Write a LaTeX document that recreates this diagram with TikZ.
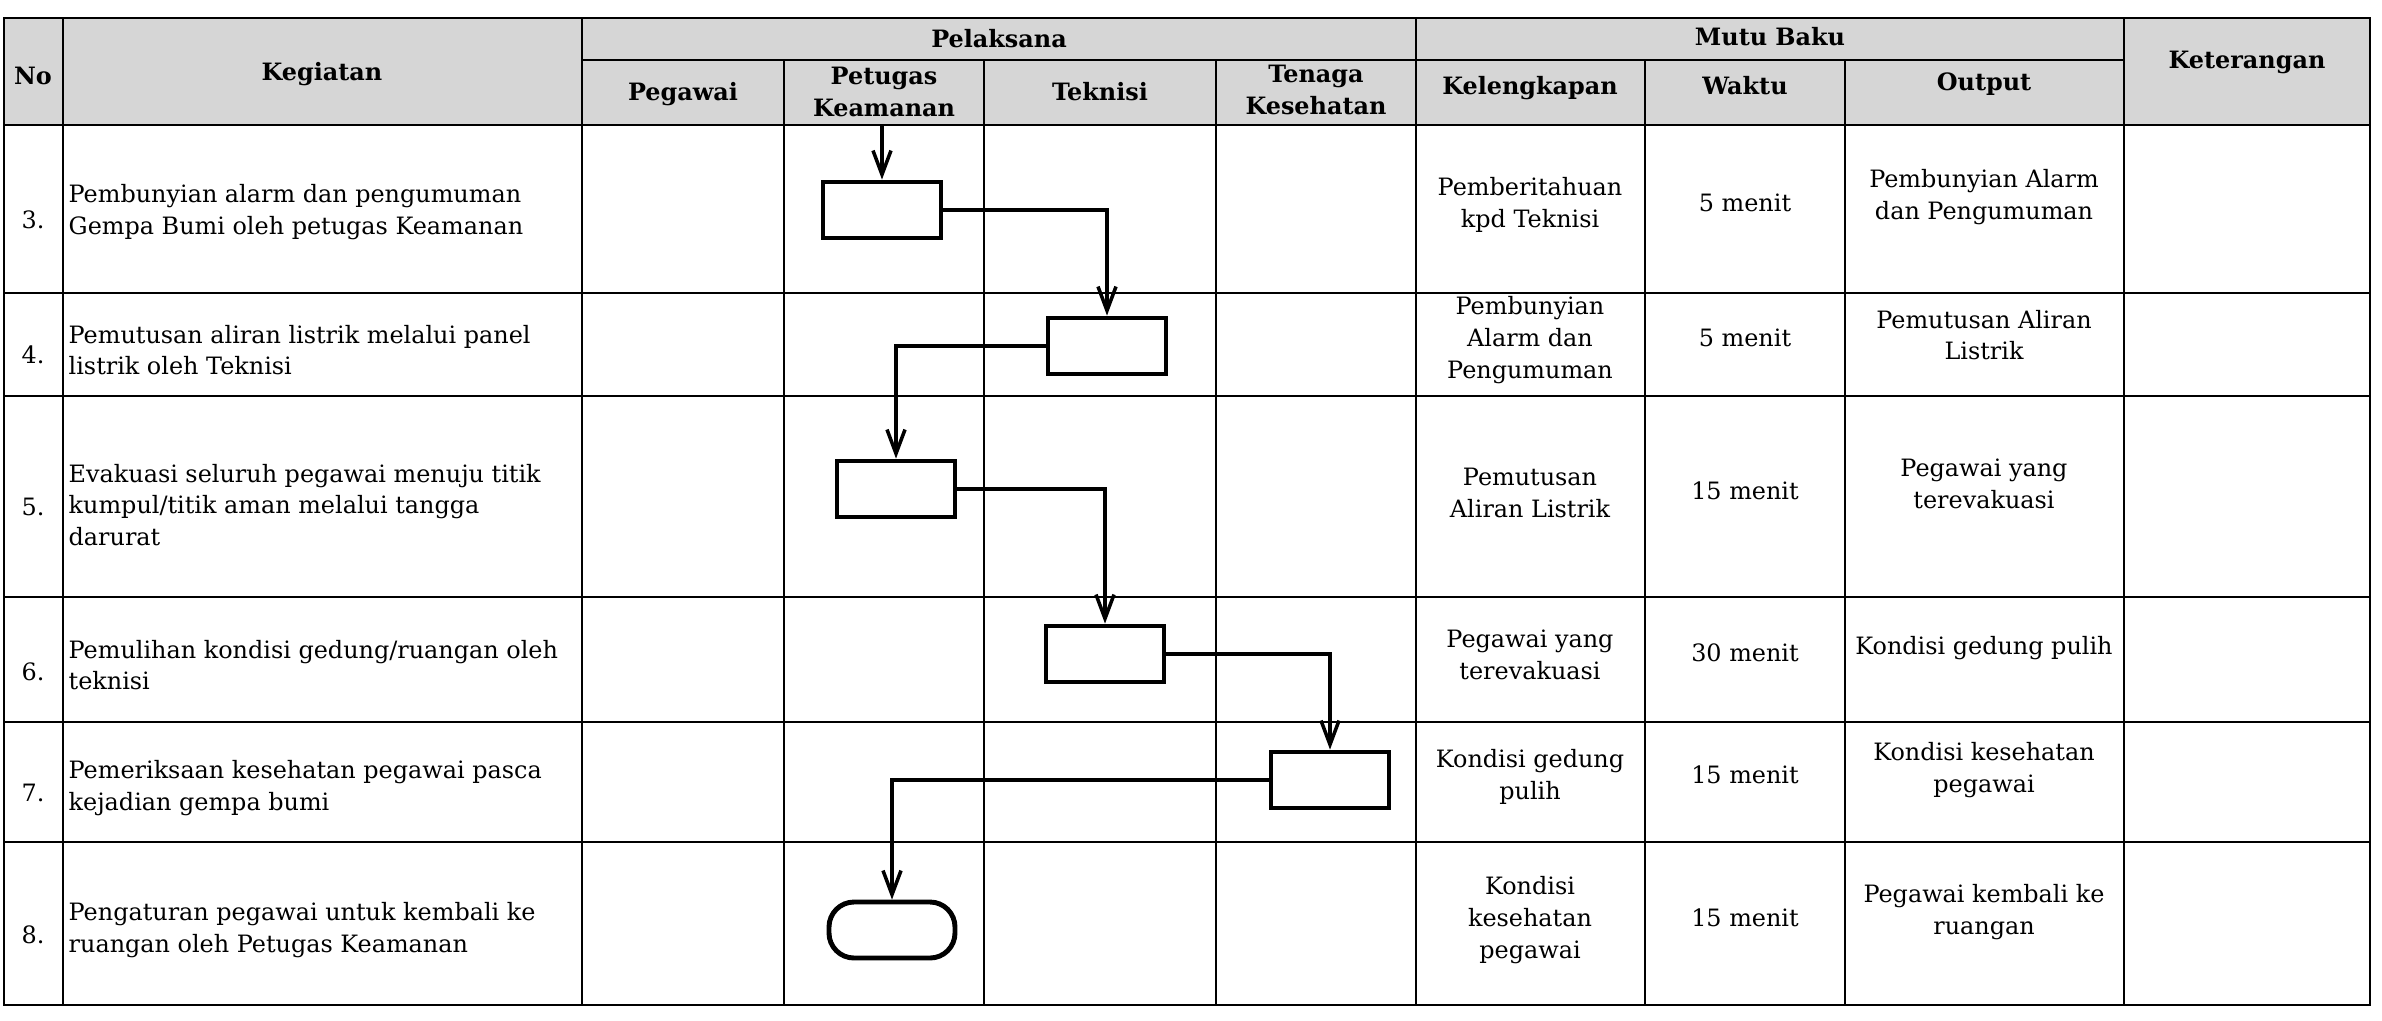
\documentclass[tikz,border=0pt]{standalone}
\usepackage{fontspec}
\setmainfont{DejaVu Serif}
\usetikzlibrary{arrows.meta}

\begin{document}
\begin{tikzpicture}[x=0.1mm, y=-0.1mm, font=\fontsize{6.8}{9}\selectfont]

\useasboundingbox (0,0) rectangle (2382,1020);

% header background
\fill[black!16] (4,18) rectangle (2370,125);

% table lines
\begin{scope}[line width=0.6pt]
    \draw (4,18) rectangle (2370,1005);
    \draw (582,60) -- (2124,60);
    \foreach \y in {125,293,396,597,722,842}
        \draw (4,\y) -- (2370,\y);
    \foreach \x in {63,582,1416,2124}
        \draw (\x,18) -- (\x,1005);
    \foreach \x in {784,984,1216,1645,1845}
        \draw (\x,60) -- (\x,1005);
\end{scope}

% header
\begin{scope}[every node/.style={font=\fontsize{6.8}{9}\selectfont\bfseries, align=center}]
    \node (hno) at (33,76) {No};
    \node (hkeg) at (322,74) {Kegiatan};
    \node (hpel) at (999,39) {Pelaksana};
    \node (hmutu) at (1770,37) {Mutu Baku};
    \node (hket) at (2247,62) {Keterangan};
    \node (hpeg) at (683,94) {Pegawai};
    \node (hpet) at (884,92) {Petugas\\Keamanan};
    \node (htek) at (1100,92) {Teknisi};
    \node (hten) at (1316,90) {Tenaga\\Kesehatan};
    \node (hkel) at (1530,88) {Kelengkapan};
    \node (hwak) at (1745,86) {Waktu};
    \node (hout) at (1984,84) {Output};
\end{scope}

% numbers
\begin{scope}[every node/.style={}]
    \node (n3) at (33,220) {3.};
    \node (n4) at (33,355) {4.};
    \node (n5) at (33,507) {5.};
    \node (n6) at (33,672) {6.};
    \node (n7) at (33,793) {7.};
    \node (n8) at (33,935) {8.};
\end{scope}

% kegiatan
\begin{scope}[every node/.style={anchor=west, align=left, inner xsep=0pt}]
    \node (k3) at (68,212) {Pembunyian alarm dan pengumuman\\Gempa Bumi oleh petugas Keamanan};
    \node (k4) at (68,350) {Pemutusan aliran listrik melalui panel\\listrik oleh Teknisi};
    \node (k5) at (68,505) {Evakuasi seluruh pegawai menuju titik\\kumpul/titik aman melalui tangga\\darurat};
    \node (k6) at (68,665) {Pemulihan kondisi gedung/ruangan oleh\\teknisi};
    \node (k7) at (68,788) {Pemeriksaan kesehatan pegawai pasca\\kejadian gempa bumi};
    \node (k8) at (68,930) {Pengaturan pegawai untuk kembali ke\\ruangan oleh Petugas Keamanan};
\end{scope}

% mutu baku
\begin{scope}[every node/.style={align=center}]
    \node (kel3) at (1530,205) {Pemberitahuan\\kpd Teknisi};
    \node (wak3) at (1745,203) {5 menit};
    \node (out3) at (1984,197) {Pembunyian Alarm\\dan Pengumuman};
    \node (kel4) at (1530,340) {Pembunyian\\Alarm dan\\Pengumuman};
    \node (wak4) at (1745,338) {5 menit};
    \node (out4) at (1984,335) {Pemutusan Aliran\\Listrik};
    \node (kel5) at (1530,493) {Pemutusan\\Aliran Listrik};
    \node (wak5) at (1745,491) {15 menit};
    \node (out5) at (1984,484) {Pegawai yang\\terevakuasi};
    \node (kel6) at (1530,655) {Pegawai yang\\terevakuasi};
    \node (wak6) at (1745,653) {30 menit};
    \node (out6) at (1984,648) {Kondisi gedung pulih};
    \node (kel7) at (1530,777) {Kondisi gedung\\pulih};
    \node (wak7) at (1745,775) {15 menit};
    \node (out7) at (1984,770) {Kondisi kesehatan\\pegawai};
    \node (kel8) at (1530,920) {Kondisi\\kesehatan\\pegawai};
    \node (wak8) at (1745,918) {15 menit};
    \node (out8) at (1984,912) {Pegawai kembali ke\\ruangan};
\end{scope}

% flow
\begin{scope}[every node/.style={draw, line width=1.4pt, minimum width=11.8mm, minimum height=5.6mm}]
    \node (b3) at (882,210) {};
    \node (b4) at (1107,346) {};
    \node (b5) at (896,489) {};
    \node (b6) at (1105,654) {};
    \node (b7) at (1330,780) {};
    \node[minimum width=12.6mm, rounded corners=2.5mm] (b8) at (892,930) {};
\end{scope}

\coordinate (start) at (882,125);

\begin{scope}[-{Straight Barb[length=2.4mm, width=1.8mm]}, line width=1pt]
    \draw (start) -- (b3);
    \draw (b3) -| (b4);
    \draw (b4) -| (b5);
    \draw (b5) -| (b6);
    \draw (b6) -| (b7);
    \draw (b7) -| (b8);
\end{scope}

\end{tikzpicture}
\end{document}
